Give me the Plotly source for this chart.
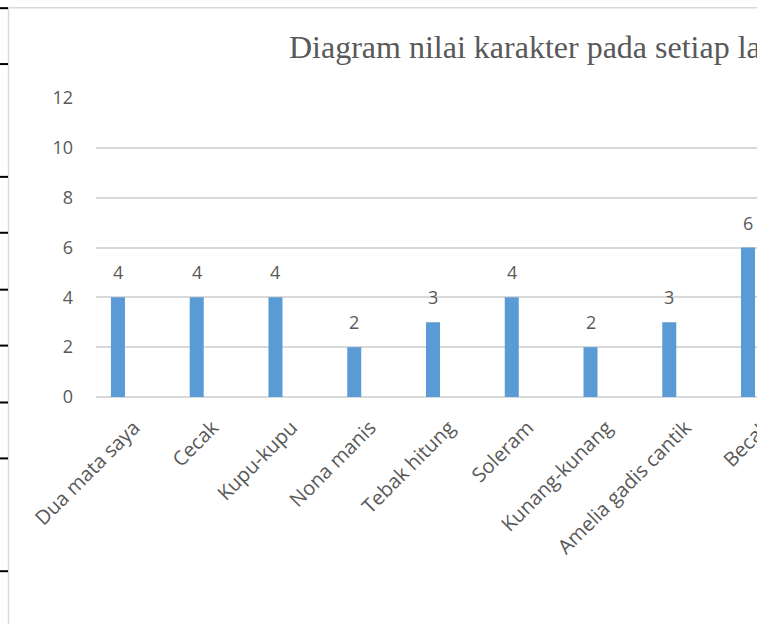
import plotly.graph_objects as go

categories = ["Dua mata saya", "Cecak", "Kupu-kupu", "Nona manis", "Tebak hitung",
              "Soleram", "Kunang-kunang", "Amelia gadis cantik", "Becak"]
values = [4, 4, 4, 2, 3, 4, 2, 3, 6]
y_ticks = [0, 2, 4, 6, 8, 10, 12]
title_text = "Diagram nilai karakter pada setiap lagu"

W, H = 757, 624
L, R, T, B = 96, 0, 98, 226.5
PW, PH = W - L - R, H - T - B

def px(x):
    return (x - L) / PW

def py(y):
    return (H - B - y) / PH

TXT = "#595959"
GRID = "#D9D9D9"
BAR = "#5B9BD5"

fig = go.Figure()
fig.add_trace(go.Bar(x=categories, y=values, width=0.178,
                     marker=dict(color=BAR, line=dict(width=0)), hoverinfo="skip"))

annotations = []
for c, v in zip(categories, values):
    annotations.append(dict(x=c, y=v, xref="x", yref="y", text=str(v), showarrow=False,
                            xanchor="center", yanchor="bottom", yshift=11,
                            font=dict(family="Open Sans", size=18, color=TXT)))
annotations.append(dict(x=px(287), y=py(47), xref="paper", yref="paper", text=title_text,
                        showarrow=False, xanchor="left", yanchor="middle",
                        font=dict(family="Liberation Serif", size=32, color=TXT)))

shapes = [
    dict(type="line", xref="paper", yref="paper", x0=px(8.5), x1=px(8.5), y0=py(7.5), y1=py(630),
         line=dict(color=GRID, width=1.5)),
    dict(type="line", xref="paper", yref="paper", x0=px(8.5), x1=px(760), y0=py(7.5), y1=py(7.5),
         line=dict(color=GRID, width=1.5)),
]
for ty in [8, 64, 177, 233, 290, 346, 403, 459, 572]:
    shapes.append(dict(type="line", xref="paper", yref="paper", x0=px(0), x1=px(8),
                       y0=py(ty), y1=py(ty), line=dict(color="black", width=2)))

fig.update_layout(
    width=W, height=H,
    margin=dict(l=L, r=R, t=T, b=B, pad=0, autoexpand=False),
    paper_bgcolor="white", plot_bgcolor="white",
    showlegend=False,
    annotations=annotations,
    shapes=shapes,
    xaxis=dict(type="category", range=[-0.279, 8.114], showgrid=False,
               zeroline=False, showline=False, ticks="", automargin=False,
               tickangle=-45, ticklabelshift=16, ticklabelstandoff=14,
               tickfont=dict(family="Open Sans", size=20, color=TXT)),
    yaxis=dict(range=[0, 12], tickvals=y_ticks, showgrid=True, gridcolor=GRID, gridwidth=1.5,
               zeroline=True, zerolinecolor=GRID, zerolinewidth=1.5, showline=False,
               ticks="", ticklabelstandoff=22, automargin=False,
               tickfont=dict(family="Open Sans", size=18, color=TXT)),
)

fig.write_html("out.html", config={"displayModeBar": False},
               post_script="document.body.style.margin='0';document.body.style.overflow='hidden';")
